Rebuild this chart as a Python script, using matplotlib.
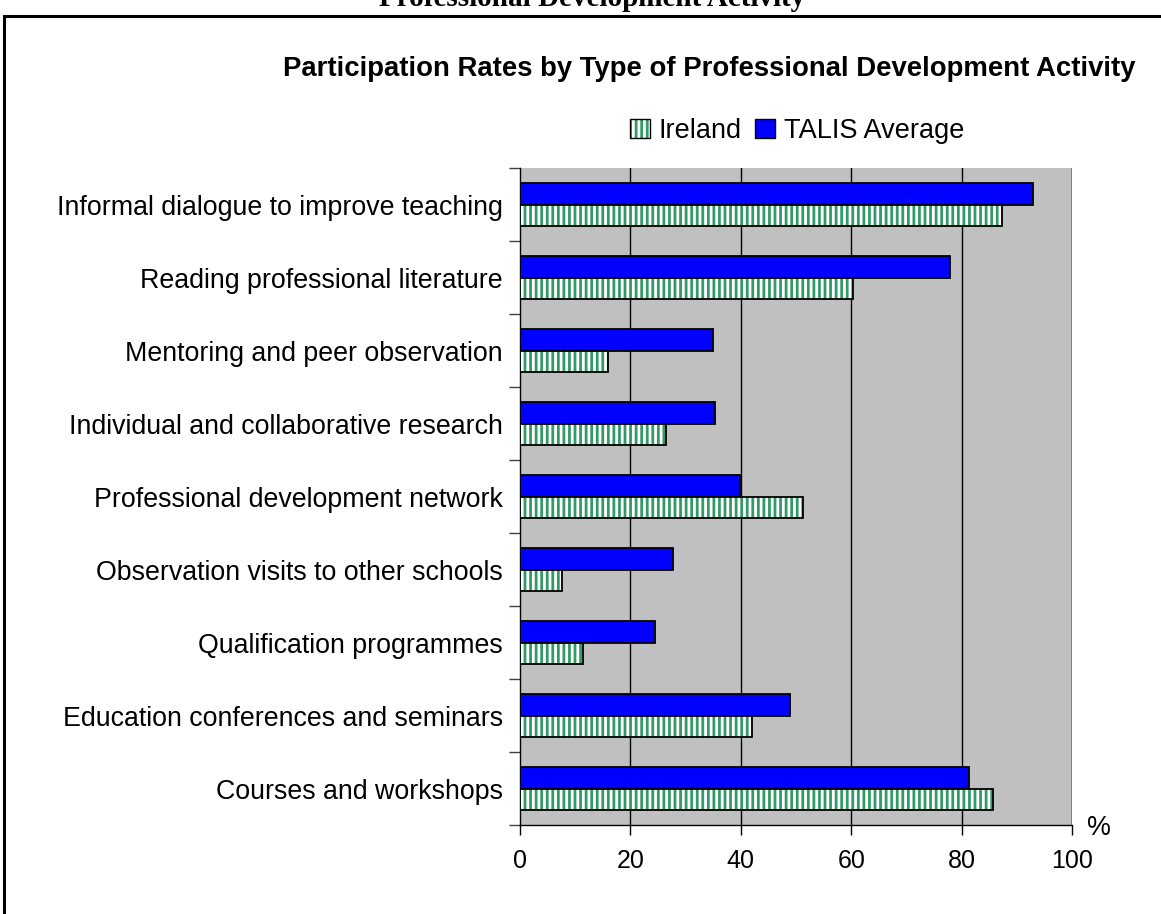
import matplotlib
matplotlib.use("Agg")
import matplotlib.pyplot as plt
from matplotlib.patches import Rectangle, Patch
from matplotlib.legend_handler import HandlerTuple
import numpy as np

categories = [
    "Informal dialogue to improve teaching",
    "Reading professional literature",
    "Mentoring and peer observation",
    "Individual and collaborative research",
    "Professional development network",
    "Observation visits to other schools",
    "Qualification programmes",
    "Education conferences and seminars",
    "Courses and workshops",
]
ireland = [87.3, 60.3, 16.0, 26.4, 51.2, 7.6, 11.4, 42.0, 85.7]
talis = [92.8, 77.9, 35.0, 35.3, 39.9, 27.7, 24.5, 48.9, 81.3]
x_ticks = [0, 20, 40, 60, 80, 100]

GREEN = "#339966"
BLUE = "#0000FF"
GREY = "#C0C0C0"

plt.rcParams["font.family"] = ["Liberation Sans", "DejaVu Sans"]
plt.rcParams["hatch.linewidth"] = 2.0

W, H = 1161, 914
fig = plt.figure(figsize=(W / 100, H / 100), dpi=100)

# outer frame around the chart
fig.patches.append(Rectangle((4 / W, -0.05), 1.2, 1 - 16 / H + 0.05,
                             transform=fig.transFigure, fill=False,
                             edgecolor="black", linewidth=2.2))

# caption above the frame (runs off the top of the page)
fig.text(592 / W, 1 - 6 / H, "Professional Development Activity",
         family="Liberation Serif", weight="bold", fontsize=21,
         ha="center", va="baseline")

ax = fig.add_axes([519.7 / W, 1 - 825 / H, (1072.3 - 519.7) / W, (825 - 168.3) / H])
ax.set_facecolor(GREY)

y = np.arange(len(categories))
h = 0.295

ax.barh(y - h / 2, talis, height=h, color=BLUE, edgecolor="black",
        linewidth=1.3, zorder=3)
# striped Ireland bars: white base with green vertical hatch, then black outline
ax.barh(y + h / 2, ireland, height=h, color="white", edgecolor=GREEN,
        hatch="|||", linewidth=0, zorder=3)
ax.barh(y + h / 2, ireland, height=h, fill=False, edgecolor="black",
        linewidth=1.3, zorder=4)

ax.set_xlim(0, 100)
ax.set_ylim(len(categories) - 0.5, -0.5)

ax.set_xticks(x_ticks)
ax.set_xticklabels([str(v) for v in x_ticks], fontsize=18)
ax.tick_params(axis="x", direction="out", length=7, width=1, pad=10,
               colors="black")

ax.set_yticks(y)
ax.set_yticklabels(categories, fontsize=19.3)
ax.set_yticks(np.arange(-0.5, len(categories), 1), minor=True)
ax.tick_params(axis="y", which="major", length=0, pad=12)
ax.tick_params(axis="y", which="minor", direction="out", length=8, width=1,
               color="#404040")

for v in x_ticks[1:-1]:
    ax.axvline(v, color="black", linewidth=1, zorder=1)
ax.axvline(100, color="#808080", linewidth=1.5, zorder=1)

for s in ["top", "right"]:
    ax.spines[s].set_visible(False)
ax.spines["left"].set_linewidth(1)
ax.spines["bottom"].set_linewidth(1)

ax.text(1099 / W, 1 - 828 / H, "%", transform=fig.transFigure, fontsize=19.3,
        ha="center", va="center")

fig.text(709 / W, 1 - 69 / H,
         "Participation Rates by Type of Professional Development Activity",
         weight="bold", fontsize=19.8, ha="center", va="center")

ire_key = (Patch(facecolor="white", edgecolor=GREEN, hatch="|||", linewidth=0),
           Patch(fill=False, edgecolor="black", linewidth=1))
talis_key = Patch(facecolor=BLUE, edgecolor="black", linewidth=1)
fig.legend([ire_key, talis_key], ["Ireland", "TALIS Average"], loc="center",
           bbox_to_anchor=(797 / W, 1 - 131 / H), ncol=2, frameon=False,
           fontsize=19.5, handlelength=0.75, handleheight=0.75,
           handletextpad=0.3, columnspacing=0.5,
           handler_map={tuple: HandlerTuple(ndivide=1, pad=0)})

fig.savefig("out.png", dpi=100)
